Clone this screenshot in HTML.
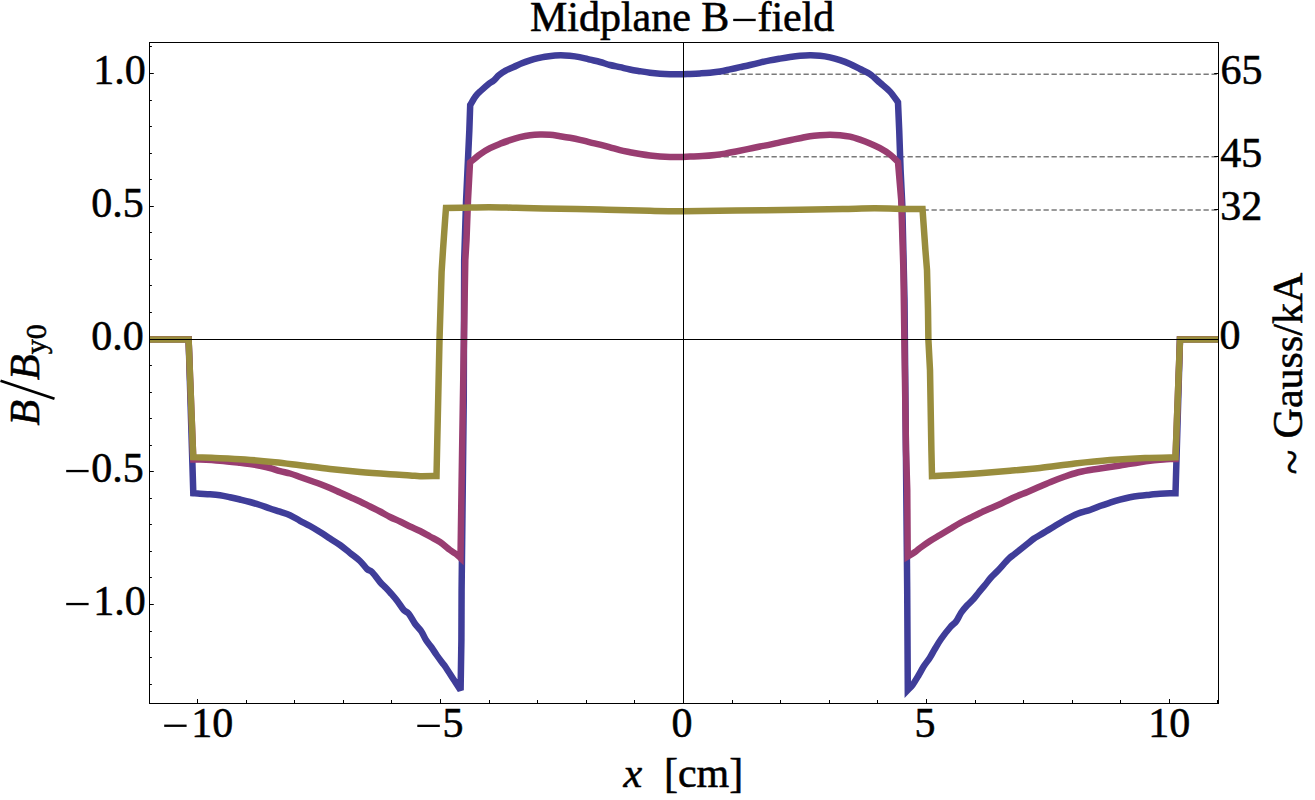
<!DOCTYPE html>
<html><head><meta charset="utf-8"><style>
html,body{margin:0;padding:0;background:#fff;}
svg{display:block;}
text{font-family:'Liberation Serif',serif;fill:#000;stroke:#000;stroke-width:0.55px;}
</style></head><body>
<svg width="1315" height="800" viewBox="0 0 1315 800">
<rect width="1315" height="800" fill="#fff"/>
<g stroke="#7a7a7a" stroke-width="1.5" stroke-dasharray="5.3 2.7" fill="none">
<line x1="683.5" y1="74.3" x2="1218" y2="74.3"/>
<line x1="683.5" y1="156.8" x2="1218" y2="156.8"/>
<line x1="683.5" y1="209.9" x2="1218" y2="209.9"/>
</g>
<g fill="none" stroke-width="6.5" stroke-linejoin="miter" stroke-miterlimit="4">
<path stroke="#3f3d99" stroke-miterlimit="3" d="M149.50,339.20 L188.60,339.20 L193.30,493.20 C194.42,493.28 197.22,493.53 200.00,493.70 C202.78,493.87 206.67,493.95 210.00,494.20 C213.33,494.45 216.67,494.70 220.00,495.20 C223.33,495.70 226.67,496.48 230.00,497.20 C233.33,497.92 236.67,498.70 240.00,499.50 C243.33,500.30 246.67,501.08 250.00,502.00 C253.33,502.92 256.67,503.92 260.00,505.00 C263.33,506.08 266.67,507.38 270.00,508.50 C273.33,509.62 276.67,510.58 280.00,511.70 C283.33,512.82 286.67,513.68 290.00,515.20 C293.33,516.72 296.67,519.00 300.00,520.80 C303.33,522.60 306.67,524.13 310.00,526.00 C313.33,527.87 316.67,529.92 320.00,532.00 C323.33,534.08 326.67,536.33 330.00,538.50 C333.33,540.67 336.67,542.58 340.00,545.00 C343.33,547.42 346.67,550.33 350.00,553.00 C353.33,555.67 357.17,558.33 360.00,561.00 C362.83,563.67 365.00,567.17 367.00,569.00 C369.00,570.83 369.83,569.83 372.00,572.00 C374.17,574.17 377.67,579.33 380.00,582.00 C382.33,584.67 384.12,586.04 386.00,588.00 C387.88,589.96 389.33,591.54 391.25,593.75 C393.17,595.96 395.42,598.54 397.50,601.25 C399.58,603.96 401.88,607.92 403.75,610.00 C405.62,612.08 406.88,611.46 408.75,613.75 C410.62,616.04 412.92,620.83 415.00,623.75 C417.08,626.67 419.42,628.54 421.25,631.25 C423.08,633.96 424.27,637.29 426.00,640.00 C427.73,642.71 429.83,645.00 431.60,647.50 C433.37,650.00 434.85,652.50 436.60,655.00 C438.35,657.50 440.58,660.47 442.10,662.50 C443.62,664.53 443.67,664.18 445.70,667.20 C447.73,670.22 451.82,676.77 454.30,680.60 C456.78,684.43 459.55,688.60 460.60,690.20 L461.40,640.00 L461.60,590.00 L463.75,400.00 L464.20,260.00 L466.10,200.00 L469.35,130.00 L470.20,105.00 C471.10,103.53 473.77,98.62 475.60,96.20 C477.43,93.78 479.03,92.53 481.20,90.50 C483.37,88.47 486.57,85.63 488.60,84.00 C490.63,82.37 491.65,82.18 493.40,80.70 C495.15,79.22 497.07,76.78 499.10,75.10 C501.13,73.42 503.17,71.95 505.60,70.60 C508.03,69.25 510.98,68.23 513.70,67.00 C516.42,65.77 519.18,64.30 521.90,63.20 C524.62,62.10 527.30,61.23 530.00,60.40 C532.70,59.57 535.60,58.80 538.10,58.20 C540.60,57.60 542.18,57.25 545.00,56.80 C547.82,56.35 551.67,55.73 555.00,55.50 C558.33,55.27 561.67,55.25 565.00,55.40 C568.33,55.55 571.67,55.92 575.00,56.40 C578.33,56.88 582.50,57.75 585.00,58.30 C587.50,58.85 587.50,59.08 590.00,59.70 C592.50,60.32 596.67,61.12 600.00,62.00 C603.33,62.88 606.67,64.13 610.00,65.00 C613.33,65.87 616.67,66.45 620.00,67.20 C623.33,67.95 626.67,68.83 630.00,69.50 C633.33,70.17 636.67,70.67 640.00,71.20 C643.33,71.73 646.67,72.28 650.00,72.70 C653.33,73.12 656.67,73.45 660.00,73.70 C663.33,73.95 666.67,74.10 670.00,74.20 C673.33,74.30 676.67,74.35 680.00,74.30 C683.33,74.25 686.67,74.05 690.00,73.90 C693.33,73.75 696.67,73.60 700.00,73.40 C703.33,73.20 706.67,73.02 710.00,72.70 C713.33,72.38 716.67,72.05 720.00,71.50 C723.33,70.95 726.67,70.12 730.00,69.40 C733.33,68.68 736.67,67.93 740.00,67.20 C743.33,66.47 746.67,65.77 750.00,65.00 C753.33,64.23 756.67,63.37 760.00,62.60 C763.33,61.83 766.67,61.07 770.00,60.40 C773.33,59.73 776.67,59.17 780.00,58.60 C783.33,58.03 786.67,57.47 790.00,57.00 C793.33,56.53 796.67,56.08 800.00,55.80 C803.33,55.52 806.67,55.32 810.00,55.30 C813.33,55.28 816.67,55.37 820.00,55.70 C823.33,56.03 826.67,56.57 830.00,57.30 C833.33,58.03 836.67,58.98 840.00,60.10 C843.33,61.22 846.67,62.52 850.00,64.00 C853.33,65.48 856.67,67.30 860.00,69.00 C863.33,70.70 866.67,71.90 870.00,74.20 C873.33,76.50 876.67,79.90 880.00,82.80 C883.33,85.70 887.00,88.35 890.00,91.60 C893.00,94.85 896.67,100.52 898.00,102.30 L899.20,130.00 L900.60,170.00 L902.30,205.00 L904.50,300.00 L907.20,590.00 L907.80,689.90 C908.58,689.08 910.67,687.48 912.50,685.00 C914.33,682.52 916.88,678.12 918.75,675.00 C920.62,671.88 921.88,669.17 923.75,666.25 C925.62,663.33 928.12,660.42 930.00,657.50 C931.88,654.58 933.12,651.88 935.00,648.75 C936.88,645.62 938.75,642.29 941.25,638.75 C943.75,635.21 947.50,630.42 950.00,627.50 C952.50,624.58 954.38,623.75 956.25,621.25 C958.12,618.75 959.38,615.21 961.25,612.50 C963.12,609.79 965.42,607.29 967.50,605.00 C969.58,602.71 971.88,600.83 973.75,598.75 C975.62,596.67 976.88,594.79 978.75,592.50 C980.62,590.21 982.96,587.50 985.00,585.00 C987.04,582.50 988.83,579.92 991.00,577.50 C993.17,575.08 995.04,573.62 998.00,570.50 C1000.96,567.38 1005.92,561.54 1008.75,558.75 C1011.58,555.96 1011.88,556.25 1015.00,553.75 C1018.12,551.25 1024.38,546.25 1027.50,543.75 C1030.62,541.25 1031.67,540.21 1033.75,538.75 C1035.83,537.29 1037.92,536.25 1040.00,535.00 C1042.08,533.75 1044.17,532.50 1046.25,531.25 C1048.33,530.00 1049.38,529.38 1052.50,527.50 C1055.62,525.62 1060.83,522.29 1065.00,520.00 C1069.17,517.71 1073.33,515.42 1077.50,513.75 C1081.67,512.08 1086.25,511.29 1090.00,510.00 C1093.75,508.71 1096.67,507.22 1100.00,506.00 C1103.33,504.78 1106.67,503.75 1110.00,502.70 C1113.33,501.65 1116.67,500.62 1120.00,499.70 C1123.33,498.78 1126.67,497.87 1130.00,497.20 C1133.33,496.53 1136.67,496.12 1140.00,495.70 C1143.33,495.28 1146.67,495.03 1150.00,494.70 C1153.33,494.37 1156.67,493.95 1160.00,493.70 C1163.33,493.45 1167.42,493.27 1170.00,493.20 C1172.58,493.13 1174.58,493.28 1175.50,493.30 L1180.00,339.20 L1218.50,339.20"/>
<path stroke="#993d71" d="M149.50,339.20 L188.60,339.20 L193.30,459.50 C194.42,459.52 195.55,459.39 200.00,459.60 C204.45,459.81 213.33,460.23 220.00,460.75 C226.67,461.27 235.00,462.21 240.00,462.75 C245.00,463.29 246.67,463.50 250.00,464.00 C253.33,464.50 256.67,465.08 260.00,465.75 C263.33,466.42 266.67,467.09 270.00,468.00 C273.33,468.91 276.67,470.28 280.00,471.20 C283.33,472.12 286.67,472.53 290.00,473.50 C293.33,474.47 296.67,475.83 300.00,477.00 C303.33,478.17 306.67,479.33 310.00,480.50 C313.33,481.67 316.67,482.75 320.00,484.00 C323.33,485.25 326.67,486.58 330.00,488.00 C333.33,489.42 336.67,491.00 340.00,492.50 C343.33,494.00 346.67,495.50 350.00,497.00 C353.33,498.50 356.67,499.92 360.00,501.50 C363.33,503.08 366.67,504.83 370.00,506.50 C373.33,508.17 376.67,509.75 380.00,511.50 C383.33,513.25 386.67,515.33 390.00,517.00 C393.33,518.67 396.67,519.92 400.00,521.50 C403.33,523.08 406.67,524.92 410.00,526.50 C413.33,528.08 416.67,529.33 420.00,531.00 C423.33,532.67 426.67,534.67 430.00,536.50 C433.33,538.33 436.67,539.75 440.00,542.00 C443.33,544.25 447.33,548.00 450.00,550.00 C452.67,552.00 454.25,552.67 456.00,554.00 C457.75,555.33 459.75,557.33 460.50,558.00 L461.50,490.00 L462.90,400.00 L464.60,300.00 L465.30,260.00 L466.50,240.00 L468.00,200.00 L470.00,162.50 C471.67,161.13 476.67,156.68 480.00,154.30 C483.33,151.92 486.67,149.95 490.00,148.20 C493.33,146.45 496.67,145.13 500.00,143.80 C503.33,142.47 506.67,141.30 510.00,140.20 C513.33,139.10 516.67,138.03 520.00,137.20 C523.33,136.37 526.67,135.65 530.00,135.20 C533.33,134.75 536.67,134.57 540.00,134.50 C543.33,134.43 546.67,134.52 550.00,134.80 C553.33,135.08 556.67,135.70 560.00,136.20 C563.33,136.70 566.67,137.20 570.00,137.80 C573.33,138.40 576.67,139.05 580.00,139.80 C583.33,140.55 586.67,141.50 590.00,142.30 C593.33,143.10 596.67,143.77 600.00,144.60 C603.33,145.43 606.67,146.37 610.00,147.30 C613.33,148.23 616.67,149.38 620.00,150.20 C623.33,151.02 626.67,151.57 630.00,152.20 C633.33,152.83 636.67,153.45 640.00,154.00 C643.33,154.55 646.67,155.08 650.00,155.50 C653.33,155.92 656.67,156.25 660.00,156.50 C663.33,156.75 666.67,156.92 670.00,157.00 C673.33,157.08 676.67,157.07 680.00,157.00 C683.33,156.93 686.25,156.75 690.00,156.60 C693.75,156.45 698.33,156.37 702.50,156.10 C706.67,155.83 711.25,155.42 715.00,155.00 C718.75,154.58 721.50,154.18 725.00,153.60 C728.50,153.02 732.25,152.25 736.00,151.50 C739.75,150.75 743.50,149.93 747.50,149.10 C751.50,148.27 756.25,147.25 760.00,146.50 C763.75,145.75 766.67,145.30 770.00,144.60 C773.33,143.90 776.67,143.03 780.00,142.30 C783.33,141.57 786.67,140.88 790.00,140.20 C793.33,139.52 796.67,138.87 800.00,138.20 C803.33,137.53 806.67,136.70 810.00,136.20 C813.33,135.70 816.67,135.45 820.00,135.20 C823.33,134.95 826.67,134.70 830.00,134.70 C833.33,134.70 836.67,134.87 840.00,135.20 C843.33,135.53 846.67,135.95 850.00,136.70 C853.33,137.45 856.67,138.57 860.00,139.70 C863.33,140.83 866.67,142.08 870.00,143.50 C873.33,144.92 876.67,146.37 880.00,148.20 C883.33,150.03 887.00,152.20 890.00,154.50 C893.00,156.80 896.67,160.75 898.00,162.00 L901.20,200.00 L903.40,270.00 L904.40,340.00 L906.00,450.00 L907.25,490.00 L907.70,556.50 C908.92,555.75 912.95,553.42 915.00,552.00 C917.05,550.58 917.50,549.83 920.00,548.00 C922.50,546.17 926.67,543.17 930.00,541.00 C933.33,538.83 936.67,537.00 940.00,535.00 C943.33,533.00 946.67,531.00 950.00,529.00 C953.33,527.00 956.67,524.83 960.00,523.00 C963.33,521.17 966.67,519.67 970.00,518.00 C973.33,516.33 976.67,514.58 980.00,513.00 C983.33,511.42 986.25,510.17 990.00,508.50 C993.75,506.83 998.33,504.92 1002.50,503.00 C1006.67,501.08 1010.83,498.85 1015.00,497.00 C1019.17,495.15 1023.33,493.65 1027.50,491.90 C1031.67,490.15 1035.83,488.27 1040.00,486.50 C1044.17,484.73 1048.33,482.92 1052.50,481.25 C1056.67,479.58 1060.83,477.96 1065.00,476.50 C1069.17,475.04 1073.33,473.58 1077.50,472.50 C1081.67,471.42 1086.25,470.67 1090.00,470.00 C1093.75,469.33 1096.67,469.00 1100.00,468.50 C1103.33,468.00 1106.67,467.50 1110.00,467.00 C1113.33,466.50 1116.67,466.03 1120.00,465.50 C1123.33,464.97 1126.67,464.35 1130.00,463.80 C1133.33,463.25 1136.67,462.70 1140.00,462.20 C1143.33,461.70 1146.67,461.20 1150.00,460.80 C1153.33,460.40 1156.67,460.10 1160.00,459.80 C1163.33,459.50 1167.42,459.13 1170.00,459.00 C1172.58,458.87 1174.58,459.00 1175.50,459.00 L1180.00,339.20 L1218.50,339.20"/>
<path stroke="#998d3d" d="M149.50,339.60 L188.60,339.60 L193.20,457.20 C196.83,457.33 206.37,457.62 215.00,458.00 C223.63,458.38 235.00,458.80 245.00,459.50 C255.00,460.20 265.83,461.24 275.00,462.20 C284.17,463.16 290.83,464.12 300.00,465.25 C309.17,466.38 320.00,467.88 330.00,469.00 C340.00,470.12 350.00,471.12 360.00,472.00 C370.00,472.88 381.67,473.68 390.00,474.25 C398.33,474.82 405.00,475.07 410.00,475.40 C415.00,475.72 415.58,476.10 420.00,476.20 C424.42,476.30 433.75,476.03 436.50,476.00 L439.50,340.00 L441.60,272.00 L443.00,250.00 L445.10,220.00 L446.00,208.00 C448.58,207.97 454.35,207.93 461.50,207.80 C468.65,207.67 479.78,207.20 488.90,207.20 C498.02,207.20 507.08,207.60 516.20,207.80 C525.32,208.00 529.63,208.12 543.60,208.40 C557.57,208.68 582.27,209.10 600.00,209.50 C617.73,209.90 636.08,210.52 650.00,210.80 C663.92,211.08 669.17,211.23 683.50,211.20 C697.83,211.17 716.58,210.85 736.00,210.60 C755.42,210.35 782.23,209.97 800.00,209.70 C817.77,209.43 830.18,209.23 842.60,209.00 C855.02,208.77 863.85,208.30 874.50,208.30 C885.15,208.30 898.50,208.88 906.50,209.00 C914.50,209.12 919.83,209.00 922.50,209.00 L925.40,250.00 L927.00,270.00 L928.00,310.00 L928.40,340.00 L930.00,370.00 L931.40,450.00 L932.00,476.00 C935.00,475.88 942.00,475.77 950.00,475.30 C958.00,474.83 970.00,473.95 980.00,473.20 C990.00,472.45 1000.00,471.67 1010.00,470.80 C1020.00,469.93 1029.17,469.20 1040.00,468.00 C1050.83,466.80 1063.33,464.92 1075.00,463.60 C1086.67,462.28 1098.33,461.03 1110.00,460.10 C1121.67,459.17 1134.08,458.47 1145.00,458.00 C1155.92,457.53 1170.42,457.42 1175.50,457.30 L1180.00,339.60 L1218.50,339.60"/>
</g>
<g stroke="#000" stroke-width="1" fill="none" shape-rendering="crispEdges">
<line x1="150" y1="339.5" x2="1218" y2="339.5"/>
<line x1="683.5" y1="43" x2="683.5" y2="703"/>
</g>
<rect x="0" y="0" width="149" height="800" fill="#fff"/>
<rect x="1219" y="0" width="96" height="800" fill="#fff"/>
<g stroke="#000" stroke-width="1" fill="none">
<rect x="149.5" y="42.5" width="1069" height="661"/>
<line x1="150" y1="684.5" x2="151.9" y2="684.5"/><line x1="150" y1="657.5" x2="151.9" y2="657.5"/><line x1="150" y1="631.5" x2="151.9" y2="631.5"/><line x1="150" y1="604.5" x2="153.8" y2="604.5"/><line x1="150" y1="577.5" x2="151.9" y2="577.5"/><line x1="150" y1="551.5" x2="151.9" y2="551.5"/><line x1="150" y1="524.5" x2="151.9" y2="524.5"/><line x1="150" y1="498.5" x2="151.9" y2="498.5"/><line x1="150" y1="471.5" x2="153.8" y2="471.5"/><line x1="150" y1="445.5" x2="151.9" y2="445.5"/><line x1="150" y1="418.5" x2="151.9" y2="418.5"/><line x1="150" y1="392.5" x2="151.9" y2="392.5"/><line x1="150" y1="365.5" x2="151.9" y2="365.5"/><line x1="150" y1="312.5" x2="151.9" y2="312.5"/><line x1="150" y1="285.5" x2="151.9" y2="285.5"/><line x1="150" y1="259.5" x2="151.9" y2="259.5"/><line x1="150" y1="232.5" x2="151.9" y2="232.5"/><line x1="150" y1="206.5" x2="153.8" y2="206.5"/><line x1="150" y1="179.5" x2="151.9" y2="179.5"/><line x1="150" y1="153.5" x2="151.9" y2="153.5"/><line x1="150" y1="126.5" x2="151.9" y2="126.5"/><line x1="150" y1="100.5" x2="151.9" y2="100.5"/><line x1="150" y1="73.5" x2="153.8" y2="73.5"/><line x1="150" y1="46.5" x2="151.9" y2="46.5"/><line x1="197.5" y1="703" x2="197.5" y2="699.0"/><line x1="246.5" y1="703" x2="246.5" y2="700.0"/><line x1="294.5" y1="703" x2="294.5" y2="700.0"/><line x1="343.5" y1="703" x2="343.5" y2="700.0"/><line x1="391.5" y1="703" x2="391.5" y2="700.0"/><line x1="440.5" y1="703" x2="440.5" y2="699.0"/><line x1="489.5" y1="703" x2="489.5" y2="700.0"/><line x1="537.5" y1="703" x2="537.5" y2="700.0"/><line x1="586.5" y1="703" x2="586.5" y2="700.0"/><line x1="634.5" y1="703" x2="634.5" y2="700.0"/><line x1="683.5" y1="703" x2="683.5" y2="699.0"/><line x1="732.5" y1="703" x2="732.5" y2="700.0"/><line x1="780.5" y1="703" x2="780.5" y2="700.0"/><line x1="829.5" y1="703" x2="829.5" y2="700.0"/><line x1="877.5" y1="703" x2="877.5" y2="700.0"/><line x1="926.5" y1="703" x2="926.5" y2="699.0"/><line x1="975.5" y1="703" x2="975.5" y2="700.0"/><line x1="1023.5" y1="703" x2="1023.5" y2="700.0"/><line x1="1072.5" y1="703" x2="1072.5" y2="700.0"/><line x1="1120.5" y1="703" x2="1120.5" y2="700.0"/><line x1="1169.5" y1="703" x2="1169.5" y2="699.0"/><line x1="1217.5" y1="703" x2="1217.5" y2="700.0"/><line x1="1218" y1="73.5" x2="1214.2" y2="73.5"/><line x1="1218" y1="156.5" x2="1214.2" y2="156.5"/><line x1="1218" y1="209.5" x2="1214.2" y2="209.5"/>
</g>
<text x="529.9" y="30.8" font-size="42">Midplane B</text>
<rect x="733.2" y="18.8" width="22.5" height="2.3" fill="#000"/>
<text x="757.4" y="30.8" font-size="42">field</text>
<g font-size="42">
<text x="93.26" y="84">1.0</text>
<text x="91.2" y="216.9">0.5</text>
<text x="91.3" y="349.6">0.0</text>
<text x="91.3" y="482">0.5</text>
<text x="93.2" y="615">1.0</text>
<text x="191.3" y="737">10</text>
<text x="442.56" y="737">5</text>
<text x="671.6" y="737">0</text>
<text x="914.46" y="737">5</text>
<text x="1148.3" y="737">10</text>
<text x="1220.4" y="83.6">65</text>
<text x="1220.2" y="166.9">45</text>
<text x="1220.2" y="220">32</text>
<text x="1219.5" y="349.4">0</text>
<text x="623.6" y="786.75" font-style="italic">x</text>
<text x="663.9" y="786.75">[cm]</text>
</g>
<g fill="#000">
<rect x="66.2" y="469.9" width="22.4" height="2.3"/>
<rect x="66.2" y="602.9" width="22.4" height="2.3"/>
<rect x="164.2" y="724.6" width="22.4" height="2.3"/>
<rect x="417.3" y="724.7" width="22.5" height="2.3"/>
</g>
<g transform="translate(39,425.5) rotate(-90)">
<text x="0" y="0" font-size="42" font-style="italic">B</text>
<text x="45.6" y="0" font-size="42" font-style="italic">B</text>
<text x="71.2" y="6.8" font-size="30">y0</text>
</g>
<line x1="0.5" y1="380.8" x2="54.5" y2="398.8" stroke="#000" stroke-width="2.6"/>
<g transform="translate(1301.75,474.4) rotate(-90)">
<text x="0" y="4.8" font-size="46">~</text>
<text x="36" y="0" font-size="42">Gauss/kA</text>
</g>
</svg>
</body></html>
